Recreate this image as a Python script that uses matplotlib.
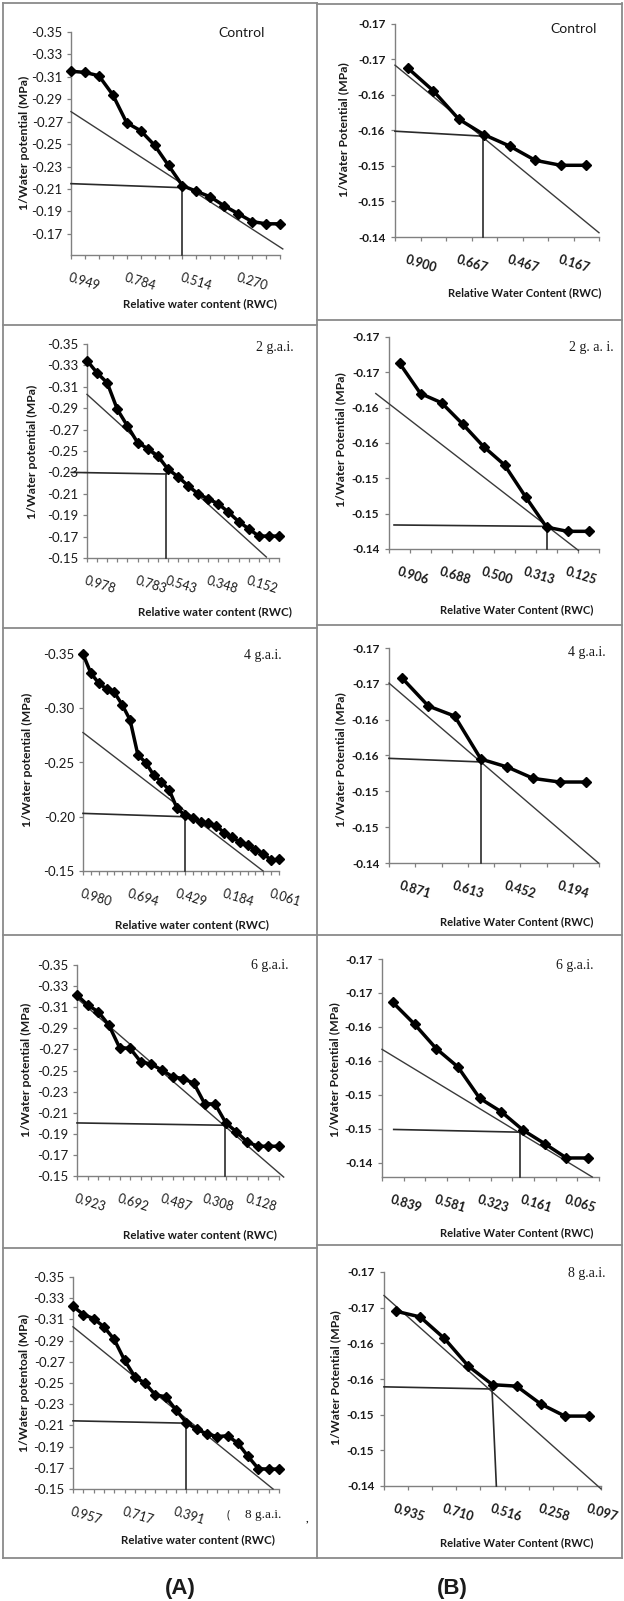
import numpy as np
import matplotlib.pyplot as plt
from matplotlib.lines import Line2D

W, H = 624, 1601
SANS = ['Lato', 'DejaVu Sans']
SERIF = ['Liberation Serif', 'DejaVu Serif']
INK = '#1a1a1a'

# ---------------- values ----------------
# y = 1/water potential (shown with a minus sign), x = RWC category (wet -> dry)

# column A
a_ticks_02 = [0.15, 0.17, 0.19, 0.21, 0.23, 0.25, 0.27, 0.29, 0.31, 0.33, 0.35]
a_ticklabels_02 = ['-0.15', '-0.17', '-0.19', '-0.21', '-0.23', '-0.25',
                   '-0.27', '-0.29', '-0.31', '-0.33', '-0.35']
a_ticks_05 = [0.15, 0.20, 0.25, 0.30, 0.35]
a_ticklabels_05 = ['-0.15', '-0.20', '-0.25', '-0.30', '-0.35']

a_ctrl_y = [0.315, 0.314, 0.311, 0.294, 0.269, 0.262, 0.249, 0.231, 0.213,
            0.208, 0.203, 0.195, 0.188, 0.181, 0.179, 0.179]
a_ctrl_rwc = ['0.949', '0.784', '0.514', '0.270']
a_ctrl_rwc_idx = [0, 4, 8, 12]
a_ctrl_tangent = [0, 0.279, 15.2, 0.1566]
a_ctrl_turgor = [0, 0.2148, 8.0, 0.2112, 8.0]

a_2_y = [0.3345, 0.3230, 0.3137, 0.2889, 0.2734, 0.2579, 0.2523, 0.2455,
         0.2331, 0.2260, 0.2176, 0.2099, 0.2052, 0.2006, 0.1928, 0.1841,
         0.1773, 0.1705, 0.1705, 0.1705]
a_2_rwc = ['0.978', '0.783', '0.543', '0.348', '0.152']
a_2_rwc_idx = [0, 5, 8, 12, 16]
a_2_tangent = [0, 0.3029, 17.75, 0.1509]
a_2_turgor = [-1.55, 0.2300, 7.85, 0.2285, 7.85]

a_4_y = [0.350, 0.3324, 0.3232, 0.3177, 0.3146, 0.3032, 0.2893, 0.2570,
         0.2499, 0.2385, 0.2323, 0.2246, 0.2077, 0.2015, 0.1985, 0.1954,
         0.1938, 0.1917, 0.1852, 0.1809, 0.1769, 0.1738, 0.1698, 0.1661,
         0.1599, 0.1608]
a_4_rwc = ['0.980', '0.694', '0.429', '0.184', '0.061']
a_4_rwc_idx = [0, 6, 12, 18, 24]
a_4_tangent = [0, 0.2776, 22.97, 0.150]
a_4_turgor = [0, 0.2031, 13.0, 0.2000, 13.0]

a_6_y = [0.3215, 0.3120, 0.3057, 0.2930, 0.2718, 0.2709, 0.2582, 0.2560,
         0.2503, 0.2440, 0.2424, 0.2377, 0.2187, 0.2180, 0.2003, 0.1918,
         0.1823, 0.1782, 0.1782, 0.1782]
a_6_rwc = ['0.923', '0.692', '0.487', '0.308', '0.128']
a_6_rwc_idx = [0, 4, 8, 12, 16]
a_6_tangent = [0, 0.3184, 19.44, 0.1490]
a_6_turgor = [0, 0.2003, 13.9, 0.1981, 13.9]

a_8_y = [0.3224, 0.3146, 0.3108, 0.3030, 0.2911, 0.2716, 0.2560, 0.2497,
         0.2387, 0.2371, 0.2246, 0.2127, 0.2064, 0.2020, 0.1995, 0.2002,
         0.1933, 0.1807, 0.1691, 0.1688, 0.1688]
a_8_rwc = ['0.957', '0.717', '0.391']
a_8_rwc_idx = [0, 5, 10]
a_8_tangent = [0, 0.3030, 19.42, 0.150]
a_8_turgor = [0, 0.2143, 11.0, 0.2121, 11.0]

# column B
b_ticks = [0.145, 0.150, 0.155, 0.160, 0.165, 0.170, 0.175]
b_ticklabels = ['-0.14', '-0.15', '-0.15', '-0.16', '-0.16', '-0.17', '-0.17']

b_ctrl_y = [0.1688, 0.1656, 0.1616, 0.1594, 0.1578, 0.1558, 0.1551, 0.1551]
b_ctrl_rwc = ['0.900', '0.667', '0.467', '0.167']
b_ctrl_rwc_idx = [0, 2, 4, 6]
b_ctrl_tangent = [-0.5, 0.1692, 7.5, 0.1456]
b_ctrl_turgor = [-0.5, 0.1599, 2.95, 0.1592, 2.95]

b_2_y = [0.1713, 0.1670, 0.1657, 0.1627, 0.1595, 0.1569, 0.1524, 0.1481,
         0.1475, 0.1475]
b_2_rwc = ['0.906', '0.688', '0.500', '0.313', '0.125']
b_2_rwc_idx = [0, 2, 4, 6, 8]
b_2_tangent = [-1.13, 0.1670, 8.52, 0.1448]
b_2_turgor = [-0.26, 0.1484, 7.02, 0.1482, 7.02]

b_4_y = [0.1708, 0.1669, 0.1655, 0.1595, 0.1584, 0.1568, 0.1563, 0.1563]
b_4_rwc = ['0.871', '0.613', '0.452', '0.194']
b_4_rwc_idx = [0, 2, 4, 6]
b_4_tangent = [-0.5, 0.1701, 7.48, 0.145]
b_4_turgor = [-0.5, 0.1596, 3.02, 0.1591, 3.02]

b_6_y = [0.1686, 0.1654, 0.1618, 0.1591, 0.1545, 0.1525, 0.1498, 0.1478,
         0.1457, 0.1457]
b_6_rwc = ['0.839', '0.581', '0.323', '0.161', '0.065']
b_6_rwc_idx = [0, 2, 4, 6, 8]
b_6_tangent = [-0.5, 0.1617, 9.19, 0.1429]
b_6_turgor = [0.04, 0.1499, 5.88, 0.1495, 5.88]

b_8_y = [0.1695, 0.1687, 0.1657, 0.1618, 0.1592, 0.1590, 0.1565, 0.1548,
         0.1548]
b_8_rwc = ['0.935', '0.710', '0.516', '0.258', '0.097']
b_8_rwc_idx = [0, 2, 4, 6, 8]
b_8_tangent = [-0.5, 0.1717, 8.5, 0.1446]
b_8_turgor = [-0.5, 0.1589, 3.98, 0.1586, 4.16]

# ---------------- layout (pixels, origin top-left) ----------------
fig = plt.figure(figsize=(W / 100, H / 100), dpi=100)


def fx(x):
    return x / W


def fy(y):
    return 1 - y / H


def panel(box, y, rwc_idx, rwc, tangent, turgor, yticks, yticklabels, ylim,
          between, colB):
    l, r, t, b = box
    ax = fig.add_axes([fx(l), fy(b), (r - l) / W, (b - t) / H])
    ax.patch.set_visible(False)
    n = len(y)
    x = np.arange(n)
    if between:
        ax.set_xlim(-0.5, n - 0.5)
        ax.set_xticks(np.arange(n + 1) - 0.5)
    else:
        ax.set_xlim(0, n - 1)
        ax.set_xticks(x)
    ax.set_xticklabels([])
    ax.set_ylim(*ylim)
    ax.set_yticks(yticks)
    ax.set_yticklabels(yticklabels, fontsize=8.5 if colB else 9.5,
                       family=SANS, color=INK,
                       weight='bold' if colB else 'normal')
    for s in ['top', 'right']:
        ax.spines[s].set_visible(False)
    for s in ['left', 'bottom']:
        ax.spines[s].set_color('#808080')
        ax.spines[s].set_linewidth(1.0)
    ax.tick_params(direction='out', length=3, width=0.9, color='#808080',
                   pad=4 if colB else 3)

    ax.plot([tangent[0], tangent[2]], [tangent[1], tangent[3]],
            color='#3a3a3a', lw=1.0, clip_on=False, zorder=3)
    xs, ys, xi, yi, xv = turgor
    ax.plot([xs, xi], [ys, yi], color='#2a2a2a', lw=1.2, clip_on=False, zorder=3)
    ax.plot([xi, xv], [yi, ylim[0]], color='#2a2a2a', lw=1.2, clip_on=False,
            zorder=3)
    ax.plot(x, y, color='black', lw=2.5, marker='D', ms=5.5, clip_on=False,
            zorder=5)

    for i, s in zip(rwc_idx, rwc):
        ax.annotate(s, xy=(i, 0), xycoords=('data', 'axes fraction'),
                    xytext=(0, -12), textcoords='offset points', ha='left',
                    va='top', rotation=-17, rotation_mode='anchor',
                    fontsize=9, family=SANS, color=INK,
                    weight='bold' if colB else 'normal',
                    annotation_clip=False)
    return ax


# left column
panel((71, 280, 32, 255), a_ctrl_y, a_ctrl_rwc_idx, a_ctrl_rwc, a_ctrl_tangent,
      a_ctrl_turgor, a_ticks_02[1:], a_ticklabels_02[1:], (0.1512, 0.35), False, False)
panel((87, 279, 344, 558), a_2_y, a_2_rwc_idx, a_2_rwc, a_2_tangent,
      a_2_turgor, a_ticks_02, a_ticklabels_02, (0.15, 0.35), False, False)
panel((83, 279, 654, 871), a_4_y, a_4_rwc_idx, a_4_rwc, a_4_tangent,
      a_4_turgor, a_ticks_05, a_ticklabels_05, (0.15, 0.35), False, False)
panel((77, 279, 965, 1176), a_6_y, a_6_rwc_idx, a_6_rwc, a_6_tangent,
      a_6_turgor, a_ticks_02, a_ticklabels_02, (0.15, 0.35), False, False)
panel((73, 279, 1277, 1489), a_8_y, a_8_rwc_idx, a_8_rwc, a_8_tangent,
      a_8_turgor, a_ticks_02, a_ticklabels_02, (0.15, 0.35), False, False)

# right column
panel((395, 599, 24, 237), b_ctrl_y, b_ctrl_rwc_idx, b_ctrl_rwc, b_ctrl_tangent,
      b_ctrl_turgor, b_ticks, b_ticklabels, (0.145, 0.175), True, True)
panel((389, 599, 337, 549), b_2_y, b_2_rwc_idx, b_2_rwc, b_2_tangent,
      b_2_turgor, b_ticks, b_ticklabels, (0.145, 0.175), True, True)
panel((389, 599, 648, 863), b_4_y, b_4_rwc_idx, b_4_rwc, b_4_tangent,
      b_4_turgor, b_ticks, b_ticklabels, (0.145, 0.175), True, True)
panel((382, 599, 959, 1177), b_6_y, b_6_rwc_idx, b_6_rwc, b_6_tangent,
      b_6_turgor, b_ticks, b_ticklabels, (0.1429, 0.175), True, True)
panel((384, 601, 1272, 1486), b_8_y, b_8_rwc_idx, b_8_rwc, b_8_tangent,
      b_8_turgor, b_ticks, b_ticklabels, (0.145, 0.175), True, True)

# titles
titles = [("Control", 242, 33, SANS), ("2 g.a.i.", 275, 347, SERIF),
          ("4 g.a.i.", 263, 655, SERIF), ("6 g.a.i.", 270, 965, SERIF),
          ("Control", 574, 29, SANS), ("2 g. a. i.", 591, 347, SERIF),
          ("4 g.a.i.", 587, 652, SERIF), ("6 g.a.i.", 575, 965, SERIF),
          ("8 g.a.i.", 587, 1273, SERIF)]
for s, x, y, fam in titles:
    fig.text(fx(x), fy(y), s, ha='center', va='center', fontsize=10,
             family=fam, color=INK)

# leftovers of the hidden tick labels in the last left panel
fig.text(fx(228), fy(1515), "(", ha='center', va='center', fontsize=8,
         family=SANS, color=INK)
fig.text(fx(263), fy(1515), "8 g.a.i.", ha='center', va='center', fontsize=9.5,
         family=SERIF, color=INK)
fig.text(fx(307), fy(1518), ",", ha='center', va='center', fontsize=8,
         family=SANS, color=INK, weight='bold')

# axis titles
ylabels = [("1/Water potential (MPa)", 24, 143), ("1/Water potential (MPa)", 32, 452),
           ("1/Water potential (MPa)", 27, 760), ("1/Water potential (MPa)", 26, 1070),
           ("1/Water potentoal (MPa)", 24, 1383),
           ("1/Water Potential (MPa)", 344, 130), ("1/Water Potential (MPa)", 341, 440),
           ("1/Water Potential (MPa)", 341, 760), ("1/Water Potential (MPa)", 335, 1070),
           ("1/Water Potential (MPa)", 336, 1378)]
for s, x, y in ylabels:
    fig.text(fx(x), fy(y), s, ha='center', va='center', rotation=90,
             fontsize=8.8, family=SANS, weight='bold', color=INK)

xlabels = [("Relative water content (RWC)", 200, 304),
           ("Relative water content (RWC)", 215, 612),
           ("Relative water content (RWC)", 192, 925),
           ("Relative water content (RWC)", 200, 1235),
           ("Relative water content (RWC)", 198, 1540),
           ("Relative Water Content (RWC)", 525, 293),
           ("Relative Water Content (RWC)", 517, 610),
           ("Relative Water Content (RWC)", 517, 922),
           ("Relative Water Content (RWC)", 517, 1233),
           ("Relative Water Content (RWC)", 517, 1543)]
for s, x, y in xlabels:
    fig.text(fx(x), fy(y), s, ha='center', va='center',
             fontsize=8.3 if 'water' in s else 8.0,
             family=SANS, weight='bold', color=INK)

# panel frames
frame = dict(color='#8a8a8a', lw=1.3)
for y in [3, 325, 628, 935, 1248, 1558]:
    fig.add_artist(Line2D([fx(3), fx(317)], [fy(y), fy(y)], **frame))
for y in [4, 320, 625, 935, 1245, 1558]:
    fig.add_artist(Line2D([fx(317), fx(622)], [fy(y), fy(y)], **frame))
for x in [3, 317, 622]:
    fig.add_artist(Line2D([fx(x), fx(x)], [fy(3), fy(1558)], **frame))

fig.text(fx(180), fy(1588), "(A)", ha='center', va='center', fontsize=16,
         family=['Liberation Sans', 'DejaVu Sans'], weight='bold', color=INK)
fig.text(fx(452), fy(1588), "(B)", ha='center', va='center', fontsize=16,
         family=['Liberation Sans', 'DejaVu Sans'], weight='bold', color=INK)

fig.savefig('out.png', dpi=100, facecolor='white')
